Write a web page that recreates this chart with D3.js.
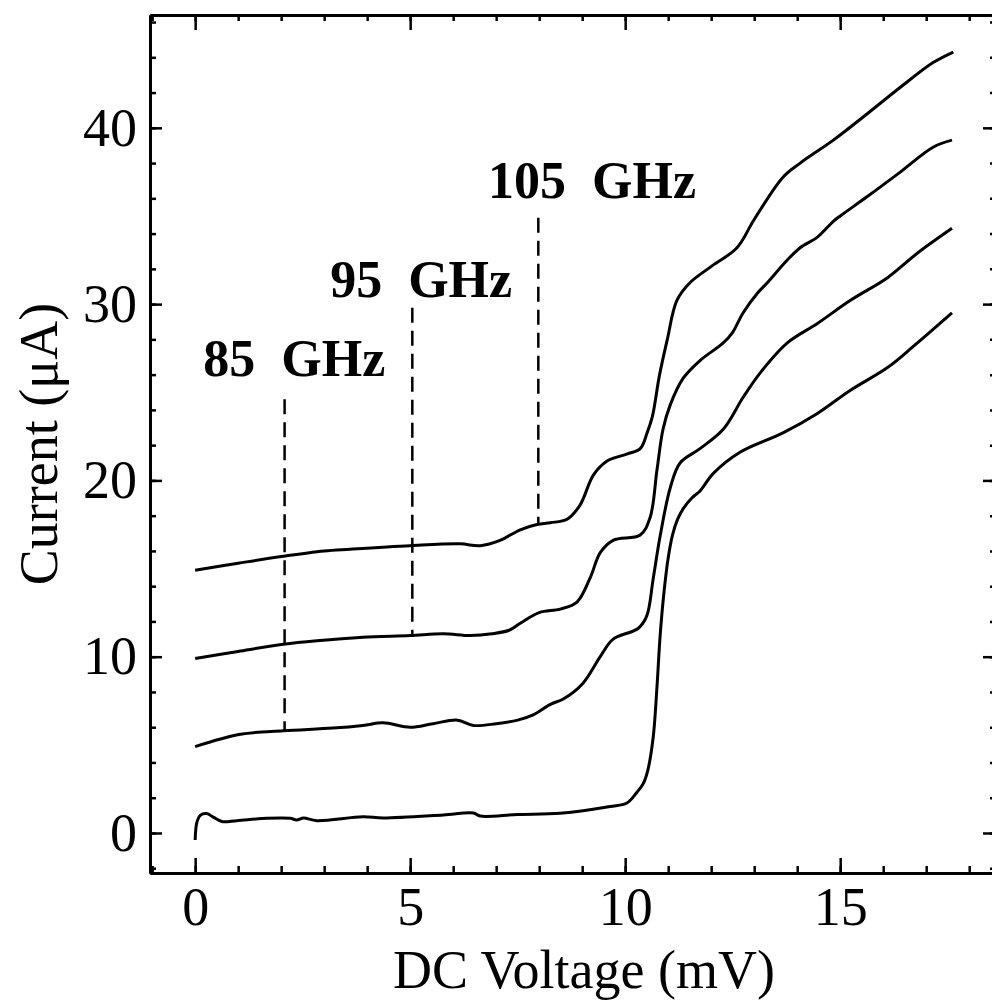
<!DOCTYPE html>
<html>
<head>
<meta charset="utf-8">
<script src="https://cdn.jsdelivr.net/npm/d3@7/dist/d3.min.js"></script>
<style>
  body { margin: 0; background: #fff; }
  svg { display: block; }
</style>
</head>
<body>
<svg id="chart" width="992" height="1008"></svg>
<script>
// I-V curves, [mV, uA], each pumped curve offset by 5 uA
var curve0 = [[0,-0.4],[0.04,0.6],[0.12,1.0],[0.27,1.1],[0.42,0.9],[0.62,0.65],[0.97,0.7],[1.67,0.83],[2.21,0.83],[2.36,0.74],[2.52,0.85],[2.83,0.7],[3.9,0.92],[4.37,0.85],[5.77,1.02],[6.47,1.13],[6.63,0.96],[7.5,1.05],[8.49,1.12],[9.65,1.5],[10.04,1.7],[10.27,2.3],[10.42,2.8],[10.53,3.6],[10.65,5.4],[10.74,8.3],[10.81,11.1],[10.9,13.6],[11.0,15.6],[11.1,16.9],[11.22,17.8],[11.35,18.4],[11.55,19.0],[11.74,19.4],[12.05,20.4],[12.67,21.6],[13.67,22.7],[14.47,23.8],[15.23,25.1],[16.1,26.4],[16.7,27.6],[17.6,29.5]];
var curve1 = [[0,4.9],[1.05,5.6],[2.05,5.8],[3.2,5.95],[3.9,6.1],[4.37,6.25],[5.0,6.0],[5.53,6.2],[6.1,6.4],[6.47,6.1],[7.0,6.2],[7.5,6.4],[7.86,6.7],[8.26,7.3],[8.56,7.6],[9.02,8.5],[9.42,10.0],[9.72,11.0],[10.3,11.6],[10.5,12.3],[10.65,14.4],[10.81,16.8],[11.05,19.6],[11.28,21.0],[11.74,21.8],[12.28,22.9],[12.74,24.7],[13.14,26.1],[13.77,27.8],[14.47,28.9],[15.23,30.2],[16.1,31.5],[16.8,32.9],[17.6,34.3]];
var curve2 = [[0,9.9],[1.0,10.3],[2.05,10.7],[2.83,10.9],[3.9,11.1],[5.0,11.2],[5.77,11.3],[6.4,11.2],[6.9,11.3],[7.3,11.5],[7.56,11.9],[8.0,12.5],[8.49,12.7],[8.88,13.1],[9.19,14.5],[9.42,15.9],[9.72,16.6],[10.35,16.9],[10.58,17.9],[10.74,20.6],[10.88,22.9],[11.05,24.3],[11.35,25.8],[11.74,26.8],[12.28,27.8],[12.5,28.4],[12.74,29.5],[13.07,30.6],[13.3,31.2],[13.77,32.5],[14.07,33.2],[14.47,33.8],[14.84,34.7],[15.0,35.0],[15.63,36.1],[16.35,37.4],[17.16,38.9],[17.6,39.3]];
var curve3 = [[0,14.9],[1.0,15.3],[2.05,15.7],[3.0,16.0],[3.6,16.1],[5.0,16.3],[6.16,16.4],[6.63,16.3],[7.09,16.6],[7.56,17.2],[7.95,17.5],[8.26,17.6],[8.65,17.8],[8.95,18.6],[9.26,20.3],[9.58,21.1],[10.05,21.5],[10.35,21.8],[10.51,22.7],[10.63,23.6],[10.8,26.0],[10.98,28.0],[11.2,30.2],[11.5,31.2],[11.98,32.1],[12.6,33.2],[13.0,34.8],[13.67,37.2],[14.07,38.0],[14.84,39.3],[15.63,40.8],[16.4,42.3],[17.16,43.7],[17.63,44.3]];
var curves = [curve0, curve1, curve2, curve3];

// LO frequency markers
var freqLabels = ["85  GHz", "95  GHz", "105  GHz"];
var markerV = [2.08, 5.05, 7.98];
var markerTop = [24.6, 29.8, 34.9];
var markerBottom = [5.8, 11.2, 17.5];
var labelV = [0.19, 3.14, 6.81];
var labelI = [25.9, 30.4, 36.0];

var xTicks = [0, 5, 10, 15];
var xMinor = d3.range(-1, 19, 1);
var yTicks = [0, 10, 20, 30, 40];
var yMinor = d3.range(-2, 47, 2);

var xLabel = "DC Voltage (mV)";
var yLabel = "Current (\u03bcA)";

var svg = d3.select("#chart"),
    margin = {top: 15, right: -3, bottom: 135, left: 150},
    width = 992 - margin.left - margin.right,
    height = 1008 - margin.top - margin.bottom,
    font = "'Liberation Serif', 'Times New Roman', serif";

var x = d3.scaleLinear().domain([-1.05, 18.6]).range([0, width]);
var y = d3.scaleLinear().domain([-2.27, 46.4]).range([height, 0]);

var g = svg.append("g").attr("transform", "translate(" + margin.left + "," + margin.top + ")");

function styleAxis(sel, size) {
    sel.selectAll("path").attr("stroke-width", 3);
    sel.selectAll("line").attr("stroke-width", 2.5);
    sel.selectAll("text").attr("font-family", font).attr("font-size", size).attr("fill", "#000");
}

// minor ticks first
g.append("g").attr("transform", "translate(0," + height + ")")
    .call(d3.axisBottom(x).tickValues(xMinor).tickSizeInner(-7).tickSizeOuter(0).tickFormat(""))
    .call(styleAxis, 0);
g.append("g")
    .call(d3.axisTop(x).tickValues(xMinor).tickSizeInner(-6).tickSizeOuter(0).tickFormat(""))
    .call(styleAxis, 0);
g.append("g")
    .call(d3.axisLeft(y).tickValues(yMinor).tickSizeInner(-6).tickSizeOuter(0).tickFormat(""))
    .call(styleAxis, 0);
g.append("g").attr("transform", "translate(" + width + ",0)")
    .call(d3.axisRight(y).tickValues(yMinor).tickSizeInner(-5).tickSizeOuter(0).tickFormat(""))
    .call(styleAxis, 0);

// major ticks
g.append("g").attr("transform", "translate(0," + height + ")")
    .call(d3.axisBottom(x).tickValues(xTicks).tickSizeInner(-15).tickSizeOuter(0).tickPadding(14))
    .call(styleAxis, 54);
g.append("g")
    .call(d3.axisTop(x).tickValues(xTicks).tickSizeInner(-15).tickSizeOuter(0).tickFormat(""))
    .call(styleAxis, 0);
g.append("g")
    .call(d3.axisLeft(y).tickValues(yTicks).tickSizeInner(-12).tickSizeOuter(0).tickPadding(13))
    .call(styleAxis, 54);
g.append("g").attr("transform", "translate(" + width + ",0)")
    .call(d3.axisRight(y).tickValues(yTicks).tickSizeInner(-12).tickSizeOuter(0).tickFormat(""))
    .call(styleAxis, 0);

// axis titles
svg.append("text")
    .attr("x", margin.left + x(4.6))
    .attr("y", 988)
    .attr("font-family", font)
    .attr("font-size", 54)
    .text(xLabel);

svg.append("text")
    .attr("transform", "translate(57," + (margin.top + height / 2) + ") rotate(-90)")
    .attr("text-anchor", "middle")
    .attr("font-family", font)
    .attr("font-size", 54)
    .text(yLabel);

// dashed markers
g.selectAll(".marker")
    .data(markerV)
    .enter().append("line")
    .attr("class", "marker")
    .attr("x1", function(d) { return x(d); })
    .attr("x2", function(d) { return x(d); })
    .attr("y1", function(d, i) { return y(markerTop[i]); })
    .attr("y2", function(d, i) { return y(markerBottom[i]); })
    .attr("stroke", "#000")
    .attr("stroke-width", 2.5)
    .attr("stroke-dasharray", "15,8");

g.selectAll(".freq")
    .data(freqLabels)
    .enter().append("text")
    .attr("class", "freq")
    .attr("x", function(d, i) { return x(labelV[i]); })
    .attr("y", function(d, i) { return y(labelI[i]); })
    .attr("font-family", font)
    .attr("font-weight", "bold")
    .attr("font-size", 52)
    .style("white-space", "pre")
    .text(function(d) { return d; });

// curves
var line = d3.line()
    .x(function(d) { return x(d[0]); })
    .y(function(d) { return y(d[1]); })
    .curve(d3.curveCatmullRom.alpha(0.5));

g.selectAll(".iv")
    .data(curves)
    .enter().append("path")
    .attr("class", "iv")
    .attr("d", line)
    .attr("fill", "none")
    .attr("stroke", "#000")
    .attr("stroke-width", 3)
    .attr("stroke-linejoin", "round");
</script>
</body>
</html>
